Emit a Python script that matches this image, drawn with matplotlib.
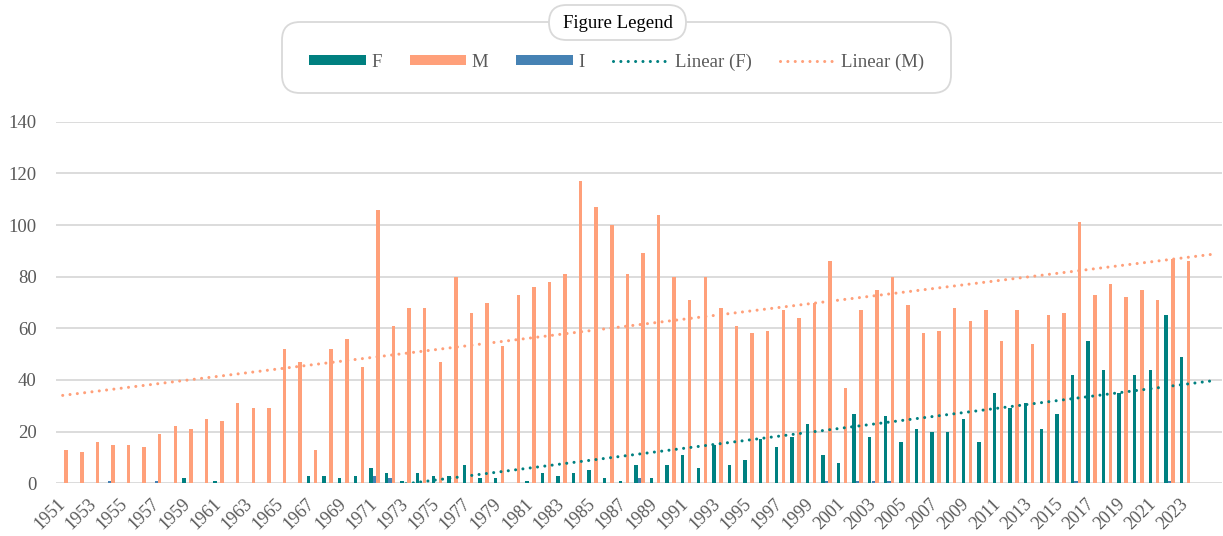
import numpy as np
import matplotlib.pyplot as plt
from matplotlib.patches import FancyBboxPatch, Patch
from matplotlib.lines import Line2D

plt.rcParams['font.family'] = ['Liberation Serif', 'DejaVu Serif']

# data (counts per year)
years = list(range(1951, 2024))
F = [0, 0, 0, 0, 0, 0, 0, 0, 2, 0,
     1, 0, 0, 0, 0, 0, 3, 3, 2, 3,
     6, 4, 1, 4, 3, 3, 7, 2, 2, 0,
     1, 4, 3, 4, 5, 2, 1, 7, 2, 7,
     11, 6, 15, 7, 9, 17, 14, 18, 23, 11,
     8, 27, 18, 26, 16, 21, 20, 20, 25, 16,
     35, 29, 31, 21, 27, 42, 55, 44, 35, 42,
     44, 65, 49]
M = [13, 12, 16, 15, 15, 14, 19, 22, 21, 25,
     24, 31, 29, 29, 52, 47, 13, 52, 56, 45,
     106, 61, 68, 68, 47, 80, 66, 70, 53, 73,
     76, 78, 81, 117, 107, 100, 81, 89, 104, 80,
     71, 80, 68, 61, 58, 59, 67, 64, 70, 86,
     37, 67, 75, 80, 69, 58, 59, 68, 63, 67,
     55, 67, 54, 65, 66, 101, 73, 77, 72, 75,
     71, 87, 86]
I = [0, 0, 0, 1, 0, 0, 1, 0, 0, 0,
     0, 0, 0, 0, 0, 0, 0, 0, 0, 0,
     3, 2, 0, 0, 0, 0, 0, 0, 0, 0,
     0, 0, 0, 0, 0, 0, 0, 2, 0, 0,
     0, 0, 0, 0, 0, 0, 0, 0, 0, 1,
     0, 1, 1, 1, 0, 0, 0, 0, 0, 0,
     0, 0, 0, 0, 0, 1, 0, 0, 0, 0,
     0, 1, 0]

teal = '#008080'
salmon = '#FFA07A'
blue = '#4682B4'
grey = '#595959'
W, H = 1223, 536

fig = plt.figure(figsize=(W / 100, H / 100), dpi=100)
ax = fig.add_axes([56 / W, 52.7 / H, 1166 / W, 361.6 / H])

x = np.arange(len(years))
w = 0.22
off = 0.225
ax.bar(x - off, F, w, color=teal, zorder=3)
ax.bar(x, I, w, color=blue, zorder=3)
ax.bar(x + off, M, w, color=salmon, zorder=3)

# linear trendlines, fitted on the years that have entries (blanks skipped)
xt = np.array([0, len(years) + 0.8])
dots = (0, (0.01, 2.4))
for vals, c in [(F, teal), (M, salmon)]:
    v = np.array(vals)
    keep = v > 0
    k, b = np.polyfit(x[keep], v[keep], 1)
    ax.plot(xt, k * xt + b, color=c, lw=2.2, linestyle=dots,
            dash_capstyle='round', zorder=4)

ax.set_ylim(0, 140)
ax.set_yticks(range(0, 141, 20))
ax.set_xlim(-0.43, 74.37)
ax.set_xticks(x[::2])
ax.set_xticklabels([str(y) for y in years[::2]], rotation=45,
                   ha='right', va='center', rotation_mode='anchor')
ax.yaxis.grid(True, color='#d9d9d9', lw=1.3)
ax.set_axisbelow(True)
for s in ax.spines.values():
    s.set_visible(False)
ax.tick_params(length=0, labelsize=13.5, labelcolor=grey)
ax.tick_params(axis='y', pad=14)
ax.tick_params(axis='x', pad=13, labelsize=13)

# legend box with pill title
box = FancyBboxPatch((2.82, 4.43), 6.69, 0.71,
                     boxstyle='round,pad=0,rounding_size=0.18',
                     transform=fig.dpi_scale_trans, fc='white',
                     ec='#d9d9d9', lw=1.3)
fig.add_artist(box)
pill = FancyBboxPatch((5.49, 4.96), 1.37, 0.35,
                      boxstyle='round,pad=0,rounding_size=0.175',
                      transform=fig.dpi_scale_trans, fc='white',
                      ec='#d9d9d9', lw=1.3)
fig.add_artist(pill)
fig.text(6.175, 5.13, 'Figure Legend', transform=fig.dpi_scale_trans,
         ha='center', va='center', fontsize=13.5, color='black')

handles = [Patch(facecolor=teal), Patch(facecolor=salmon), Patch(facecolor=blue),
           Line2D([], [], color=teal, lw=2.2, linestyle=dots, dash_capstyle='round'),
           Line2D([], [], color=salmon, lw=2.2, linestyle=dots, dash_capstyle='round')]
labels = ['F', 'M', 'I', 'Linear (F)', 'Linear (M)']
fig.legend(handles, labels, loc='center', bbox_to_anchor=(617 / W, 1 - 62 / H),
           ncol=5, frameon=False, fontsize=13.5, handlelength=3.0,
           handleheight=0.45, columnspacing=1.5, handletextpad=0.3,
           labelcolor=grey)

fig.savefig('out.png', dpi=100)
